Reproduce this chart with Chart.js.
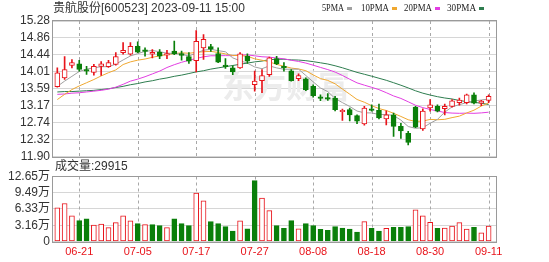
<!DOCTYPE html>
<html lang="zh">
<head>
    <meta charset="UTF-8">
    <title>贵航股份 K线</title>
    <script src="https://cdn.jsdelivr.net/npm/chart.js"></script>
    <style>
        body { margin: 0; background: #fff; }
        #wrap { position: relative; width: 549px; height: 262px; }
        #wrap canvas { position: absolute; left: 0; top: 0; }
    </style>
</head>
<body>
<div id="wrap">
    <canvas id="kline" width="549" height="262"></canvas>
    <canvas id="volume" width="549" height="262"></canvas>
</div>
<script>
    const dates = ["06-16", "06-19", "06-20", "06-21", "06-26", "06-27", "06-28", "06-29", "06-30",
        "07-03", "07-04", "07-05", "07-06", "07-07", "07-10", "07-11", "07-12", "07-13", "07-14", "07-17",
        "07-18", "07-19", "07-20", "07-21", "07-24", "07-25", "07-26", "07-27", "07-28", "07-31",
        "08-01", "08-02", "08-03", "08-04", "08-07", "08-08", "08-09", "08-10", "08-11", "08-14",
        "08-15", "08-16", "08-17", "08-18", "08-21", "08-22", "08-23", "08-24", "08-25", "08-28",
        "08-29", "08-30", "08-31", "09-01", "09-04", "09-05", "09-06", "09-07", "09-08", "09-11"];

    const open = [13.64, 13.86, 14.17, 14.21, 14.07, 14.00, 14.15, 14.14, 14.20, 14.49,
        14.45, 14.65, 14.56, 14.45, 14.50, 14.43, 14.53, 14.47, 14.39, 14.29,
        14.61, 14.64, 14.47, 14.18, 14.11, 14.11, 14.40, 13.69, 13.79, 13.94,
        14.34, 14.15, 14.04, 13.84, 13.84, 13.65, 13.39, 13.37, 13.36, 13.02,
        13.07, 12.92, 12.71, 13.09, 13.05, 12.84, 12.94, 12.65, 12.48, 13.13,
        12.59, 13.11, 13.15, 13.09, 13.15, 13.24, 13.24, 13.44, 13.23, 13.30];
    const high = [14.11, 14.39, 14.32, 14.30, 14.15, 14.20, 14.27, 14.30, 14.49, 14.74,
        14.74, 14.76, 14.61, 14.57, 14.57, 14.55, 14.78, 14.53, 14.49, 15.04,
        14.94, 14.70, 14.61, 14.34, 14.16, 14.49, 14.46, 14.03, 14.07, 14.38,
        14.40, 14.24, 14.07, 13.96, 13.86, 13.69, 13.44, 13.47, 13.40, 13.08,
        13.11, 12.94, 13.15, 13.19, 13.21, 13.04, 12.98, 12.73, 12.53, 13.15,
        13.09, 13.32, 13.19, 13.21, 13.32, 13.36, 13.46, 13.49, 13.30, 13.44];
    const low = [13.63, 13.82, 14.11, 14.03, 13.95, 13.93, 13.92, 14.12, 14.18, 14.45,
        14.43, 14.49, 14.40, 14.36, 14.34, 14.34, 14.44, 14.30, 14.22, 14.01,
        14.32, 14.52, 14.24, 14.10, 13.94, 14.10, 14.22, 13.53, 13.49, 13.90,
        14.19, 14.03, 13.78, 13.79, 13.54, 13.38, 13.29, 13.30, 13.04, 12.80,
        12.79, 12.72, 12.68, 13.03, 12.84, 12.69, 12.40, 12.35, 12.19, 12.62,
        12.55, 13.03, 13.01, 12.94, 13.13, 13.18, 13.21, 13.21, 13.17, 13.24];
    const close = [13.99, 14.07, 14.24, 14.07, 14.03, 14.15, 14.21, 14.24, 14.39, 14.55,
        14.65, 14.50, 14.52, 14.50, 14.40, 14.47, 14.46, 14.42, 14.28, 14.77,
        14.82, 14.58, 14.25, 14.14, 14.01, 14.46, 14.28, 13.78, 13.92, 14.36,
        14.21, 14.11, 13.79, 13.92, 13.57, 13.42, 13.35, 13.33, 13.07, 13.05,
        12.94, 12.78, 13.11, 13.05, 12.86, 12.94, 12.65, 12.54, 12.25, 12.63,
        13.03, 13.19, 13.03, 13.15, 13.29, 13.31, 13.44, 13.23, 13.28, 13.40];

    // 成交量, 单位: 万
    const volume = [6.55, 7.40, 5.00, 4.06, 4.39, 3.20, 3.40, 2.70, 3.67, 5.00,
        4.00, 3.47, 3.27, 3.27, 3.08, 2.70, 4.39, 3.47, 3.08, 9.43,
        7.92, 3.86, 3.47, 2.88, 2.03, 4.00, 2.49, 11.85, 8.45, 6.02,
        3.08, 2.55, 4.06, 2.49, 3.47, 3.08, 2.36, 2.16, 2.88, 2.62,
        2.42, 1.83, 3.86, 2.55, 2.03, 2.55, 2.75, 2.75, 2.88, 6.16,
        4.98, 3.73, 2.55, 2.62, 3.01, 3.67, 2.42, 2.75, 1.70, 2.99];

    // MA values before a full window is available
    const ma5Head = [13.65, 13.78, 13.90, 14.02];
    const ma10Head = [13.32, 13.45, 13.57, 13.66, 13.74, 13.82, 13.91, 13.99, 14.06];
    const ma20Head = [13.45, 13.46, 13.48, 13.49, 13.51, 13.53, 13.55, 13.58, 13.63, 13.70,
        13.78, 13.83, 13.89, 13.96, 14.03, 14.12, 14.19, 14.25, 14.30];
    const ma30Head = [13.51, 13.52, 13.52, 13.53, 13.54, 13.55, 13.57, 13.59, 13.62, 13.65,
        13.69, 13.72, 13.76, 13.79, 13.83, 13.86, 13.90, 13.93, 13.97, 14.01,
        14.04, 14.08, 14.11, 14.14, 14.17, 14.20, 14.23, 14.26, 14.28];

    const priceTicks = [11.90, 12.32, 12.74, 13.17, 13.59, 14.01, 14.44, 14.86, 15.28];
    const volumeTicks = [0, 3.16, 6.33, 9.49, 12.65];
    const dateTicks = ["06-21", "07-05", "07-17", "07-27", "08-08", "08-18", "08-30", "09-11"];

    const RED = "#e8141b";
    const GREEN = "#0a7f0a";
    const FONT = '"Liberation Sans", "Noto Sans CJK SC", sans-serif';
    const maColors = {ma5: "#a0a0a0", ma10: "#f0a830", ma20: "#e23ee2", ma30: "#2e7d4f"};

    function movingAverage(n, head) {
        return close.map((c, i) => {
            if (i < n - 1) return head[i];
            let s = 0;
            for (let k = i - n + 1; k <= i; k++) s += close[k];
            return s / n;
        });
    }

    const candleUp = close.map((c, i) => c >= open[i]);
    const volumeUp = close.map((c, i) => i === 0 ? c >= open[0] : c >= close[i - 1]);
    const tickIdx = dateTicks.map(d => dates.indexOf(d));

    const X_MIN = -0.59, X_MAX = 60.01;

    function xAxis(showLabels) {
        return {
            type: "linear",
            min: X_MIN,
            max: X_MAX,
            offset: false,
            afterBuildTicks: s => { s.ticks = tickIdx.map(v => ({value: v})); },
            afterFit: s => { s.height = showLabels ? 20 : 0; },
            ticks: {
                display: showLabels,
                autoSkip: false,
                maxRotation: 0,
                padding: 4,
                color: RED,
                font: {family: FONT, size: 11},
                callback: v => dates[v]
            },
            grid: {display: false, drawTicks: false},
            border: {display: false}
        };
    }

    function yAxis(min, max, ticks, fmt) {
        return {
            type: "linear",
            min: min,
            max: max,
            afterBuildTicks: s => { s.ticks = ticks.map(v => ({value: v})); },
            afterFit: s => { s.width = 53; },
            ticks: {
                autoSkip: false,
                padding: 3,
                color: "#333",
                font: {family: FONT, size: 12},
                callback: fmt
            },
            grid: {color: "#d6d6d6", drawTicks: false},
            border: {display: false}
        };
    }

    // dashed vertical lines at the labelled dates, frame round the plot
    const frame = {
        id: "frame",
        beforeDatasetsDraw(chart) {
            const a = chart.chartArea, ctx = chart.ctx, x = chart.scales.x;
            ctx.save();
            ctx.strokeStyle = "#a8a8a8";
            ctx.lineWidth = 1;
            ctx.setLineDash([3, 3]);
            x.ticks.forEach(t => {
                const px = Math.round(x.getPixelForValue(t.value)) + 0.5;
                ctx.beginPath();
                ctx.moveTo(px, a.top);
                ctx.lineTo(px, a.bottom);
                ctx.stroke();
            });
            ctx.restore();
        },
        afterDraw(chart) {
            const a = chart.chartArea, ctx = chart.ctx;
            ctx.save();
            ctx.strokeStyle = "#9a9a9a";
            ctx.lineWidth = 1;
            ctx.strokeRect(Math.round(a.left) - 0.5, Math.round(a.top) - 0.5,
                Math.round(a.right - a.left) + 1, Math.round(a.bottom - a.top) + 1);
            ctx.restore();
        }
    };

    const klineText = {
        id: "klineText",
        beforeDatasetsDraw(chart) {
            const ctx = chart.ctx;
            ctx.save();
            ctx.fillStyle = "#ececec";
            ctx.font = 'bold 32px "Noto Sans CJK SC", sans-serif';
            ctx.textBaseline = "middle";
            ctx.fillText("东方财富", 222, 86, 136);
            ctx.restore();
        },
        afterDraw(chart) {
            const ctx = chart.ctx;
            ctx.save();
            ctx.textBaseline = "middle";
            ctx.fillStyle = "#333";
            ctx.font = "12px " + FONT;
            ctx.fillText("贵航股份[600523] 2023-09-11 15:00", 53, 8.5);
            const items = [
                {t: "5PMA", c: maColors.ma5, x: 322, w: 22},
                {t: "10PMA", c: maColors.ma10, x: 361, w: 28},
                {t: "20PMA", c: maColors.ma20, x: 404, w: 28},
                {t: "30PMA", c: maColors.ma30, x: 447, w: 29}
            ];
            ctx.font = '11px "Liberation Serif", serif';
            items.forEach(it => {
                ctx.fillStyle = "#222";
                ctx.fillText(it.t, it.x, 8.5, it.w);
                ctx.fillStyle = it.c;
                ctx.fillRect(it.x + it.w + 3, 7, 5, 3);
            });
            ctx.restore();
        }
    };

    const volumeText = {
        id: "volumeText",
        afterDraw(chart) {
            const ctx = chart.ctx;
            ctx.save();
            ctx.textBaseline = "middle";
            ctx.fillStyle = "#333";
            ctx.font = "12px " + FONT;
            ctx.fillText("成交量:29915", 55, 167);
            ctx.restore();
        }
    };

    const lineSet = (label, data, color) => ({
        type: "line",
        label: label,
        data: data.map((v, i) => ({x: i, y: v})),
        borderColor: color,
        borderWidth: 1,
        pointRadius: 0,
        tension: 0,
        order: 3
    });

    new Chart("kline", {
        type: "bar",
        data: {
            datasets: [
                {
                    label: "body",
                    data: dates.map((d, i) => ({x: i, y: [open[i], close[i]]})),
                    backgroundColor: candleUp.map(u => u ? "#fff" : GREEN),
                    borderColor: candleUp.map(u => u ? RED : GREEN),
                    borderWidth: 1,
                    borderSkipped: false,
                    barThickness: 5,
                    grouped: false,
                    order: 1
                },
                {
                    label: "wick",
                    data: dates.map((d, i) => ({x: i, y: [low[i], high[i]]})),
                    backgroundColor: candleUp.map(u => u ? RED : GREEN),
                    barThickness: 1,
                    grouped: false,
                    order: 2
                },
                lineSet("5PMA", movingAverage(5, ma5Head), maColors.ma5),
                lineSet("10PMA", movingAverage(10, ma10Head), maColors.ma10),
                lineSet("20PMA", movingAverage(20, ma20Head), maColors.ma20),
                lineSet("30PMA", movingAverage(30, ma30Head), maColors.ma30)
            ]
        },
        options: {
            responsive: false,
            animation: false,
            layout: {padding: {top: 21, right: 53, bottom: 105.5, left: 0}},
            plugins: {legend: {display: false}, tooltip: {enabled: false}},
            scales: {
                x: xAxis(false),
                y: yAxis(11.90, 15.28, priceTicks, v => v.toFixed(2))
            }
        },
        plugins: [frame, klineText]
    });

    new Chart("volume", {
        type: "bar",
        data: {
            datasets: [{
                label: "成交量",
                data: volume.map((v, i) => ({x: i, y: v})),
                backgroundColor: volumeUp.map(u => u ? "#fff" : GREEN),
                borderColor: volumeUp.map(u => u ? RED : GREEN),
                borderWidth: 1,
                borderSkipped: false,
                barThickness: 5
            }]
        },
        options: {
            responsive: false,
            animation: false,
            layout: {padding: {top: 176.5, right: 53, bottom: 0.5, left: 0}},
            plugins: {legend: {display: false}, tooltip: {enabled: false}},
            scales: {
                x: xAxis(true),
                y: yAxis(0, 12.65, volumeTicks, v => v === 0 ? "0" : v.toFixed(2) + "万")
            }
        },
        plugins: [frame, volumeText]
    });
</script>
</body>
</html>
